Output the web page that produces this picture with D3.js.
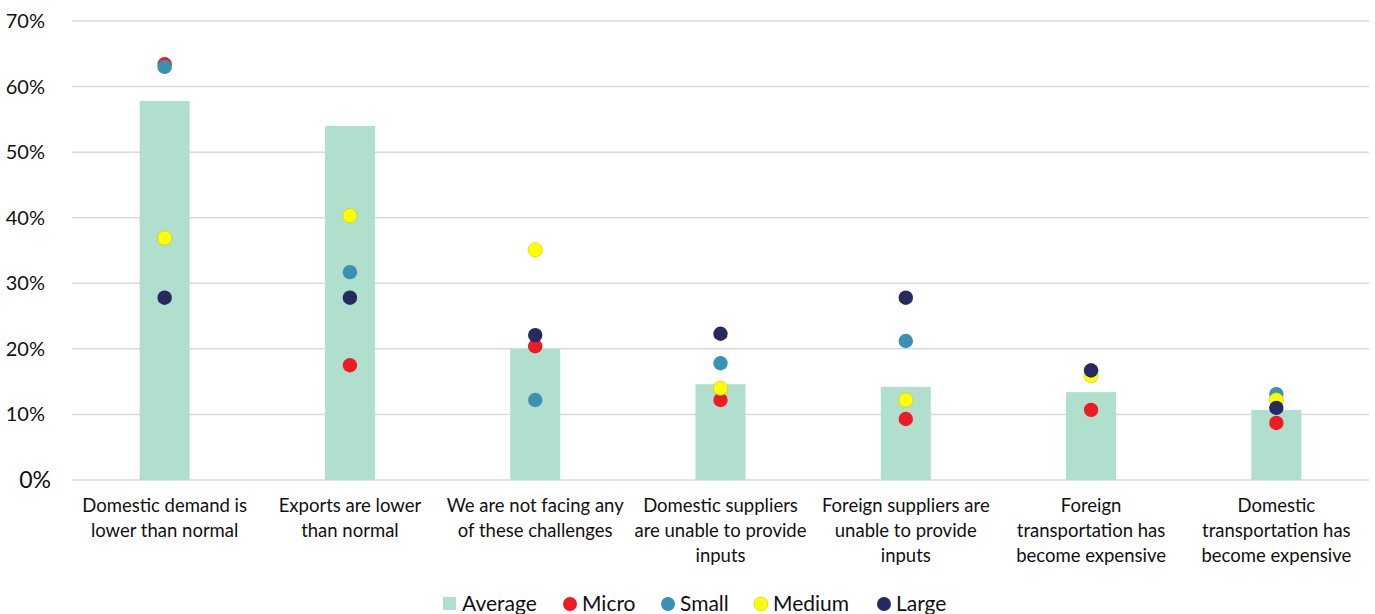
<!DOCTYPE html>
<html>
<head>
<meta charset="utf-8">
<script src="https://cdn.jsdelivr.net/npm/d3@7"></script>
<style>
  body { margin: 0; background: #fff; }
  svg { display: block; font-family: Lato, "Open Sans", sans-serif; }
</style>
</head>
<body>
<svg id="chart" width="1375" height="614"></svg>
<script>
// Challenges faced by firms, share of respondents by firm size
const categories = [
  ["Domestic demand is", "lower than normal"],
  ["Exports are lower", "than normal"],
  ["We are not facing any", "of these challenges"],
  ["Domestic suppliers", "are unable to provide", "inputs"],
  ["Foreign suppliers are", "unable to provide", "inputs"],
  ["Foreign", "transportation has", "become expensive"],
  ["Domestic", "transportation has", "become expensive"]
];
const average = [57.8, 54.0, 20.0, 14.6, 14.2, 13.4, 10.7];
const micro   = [63.4, 17.5, 20.4, 12.2, 9.3, 10.7, 8.7];
const small   = [63.0, 31.7, 12.2, 17.8, 21.2, 16.7, 13.1];
const medium  = [36.9, 40.3, 35.1, 14.0, 12.2, 15.9, 12.2];
const large   = [27.8, 27.8, 22.1, 22.3, 27.8, 16.7, 11.0];
const yTicks = [0, 10, 20, 30, 40, 50, 60, 70];

const series = [
  { name: "Micro",  values: micro,  color: "#ed1c24" },
  { name: "Small",  values: small,  color: "#3a91b4" },
  { name: "Medium", values: medium, color: "#ffff00" },
  { name: "Large",  values: large,  color: "#262a5e" }
];
const barColor = "#b1dfce";

const svg = d3.select("#chart");
const margin = { left: 72, right: 6, top: 21, bottom: 134 };
const W = 1375, H = 614;

const x = d3.scaleBand()
  .domain(d3.range(categories.length))
  .range([margin.left, W - margin.right])
  .paddingInner(0).paddingOuter(0);
const y = d3.scaleLinear().domain([0, 70]).range([H - margin.bottom, margin.top]);

// Gridlines
svg.append("g")
  .selectAll("line")
  .data(yTicks)
  .join("line")
  .attr("x1", margin.left).attr("x2", W - margin.right)
  .attr("y1", d => y(d)).attr("y2", d => y(d))
  .attr("stroke", "#d9d9d9").attr("stroke-width", 1.5);

// Y tick labels
svg.append("g")
  .selectAll("text")
  .data(yTicks)
  .join("text")
  .attr("x", d => d === 0 ? 51 : 45)
  .attr("y", d => y(d))
  .attr("dy", "0.35em")
  .attr("text-anchor", "end")
  .attr("font-size", d => d === 0 ? 23 : 20)
  .attr("fill", "#111")
  .text(d => d + "%");

// Average bars
const barW = 50;
svg.append("g")
  .selectAll("rect")
  .data(average)
  .join("rect")
  .attr("x", (d, i) => x(i) + x.bandwidth() / 2 - barW / 2)
  .attr("width", barW)
  .attr("y", d => y(d))
  .attr("height", d => y(0) - y(d))
  .attr("fill", barColor);

// Size-class markers
series.forEach(s => {
  svg.append("g")
    .selectAll("circle")
    .data(s.values)
    .join("circle")
    .attr("cx", (d, i) => x(i) + x.bandwidth() / 2)
    .attr("cy", d => y(d))
    .attr("r", 7.2)
    .attr("fill", s.color)
    .attr("stroke", s.name === "Medium" ? "#c8c800" : "none")
    .attr("stroke-width", 0.6);
});

// Category labels
const catG = svg.append("g");
categories.forEach((lines, i) => {
  const t = catG.append("text")
    .attr("x", x(i) + x.bandwidth() / 2)
    .attr("y", 512)
    .attr("text-anchor", "middle")
    .attr("font-size", 18.5)
    .attr("fill", "#111");
  lines.forEach((ln, j) => {
    t.append("tspan")
      .attr("x", x(i) + x.bandwidth() / 2)
      .attr("y", 512 + j * 25)
      .text(ln);
  });
});

// Legend
const legendY = 604;
const legend = svg.append("g");
legend.append("rect")
  .attr("x", 443).attr("y", legendY - 7).attr("width", 13).attr("height", 13)
  .attr("fill", barColor);
legend.append("text").attr("x", 462).attr("y", legendY).attr("dy", "0.35em")
  .attr("font-size", 21).attr("fill", "#111").text("Average");
const legendPos = [570, 668, 761, 884];
series.forEach((s, k) => {
  legend.append("circle")
    .attr("cx", legendPos[k]).attr("cy", legendY).attr("r", 7)
    .attr("fill", s.color)
    .attr("stroke", s.name === "Medium" ? "#c8c800" : "none")
    .attr("stroke-width", 0.6);
  legend.append("text").attr("x", legendPos[k] + 12).attr("y", legendY).attr("dy", "0.35em")
    .attr("font-size", 21).attr("fill", "#111").text(s.name);
});
</script>
</body>
</html>
